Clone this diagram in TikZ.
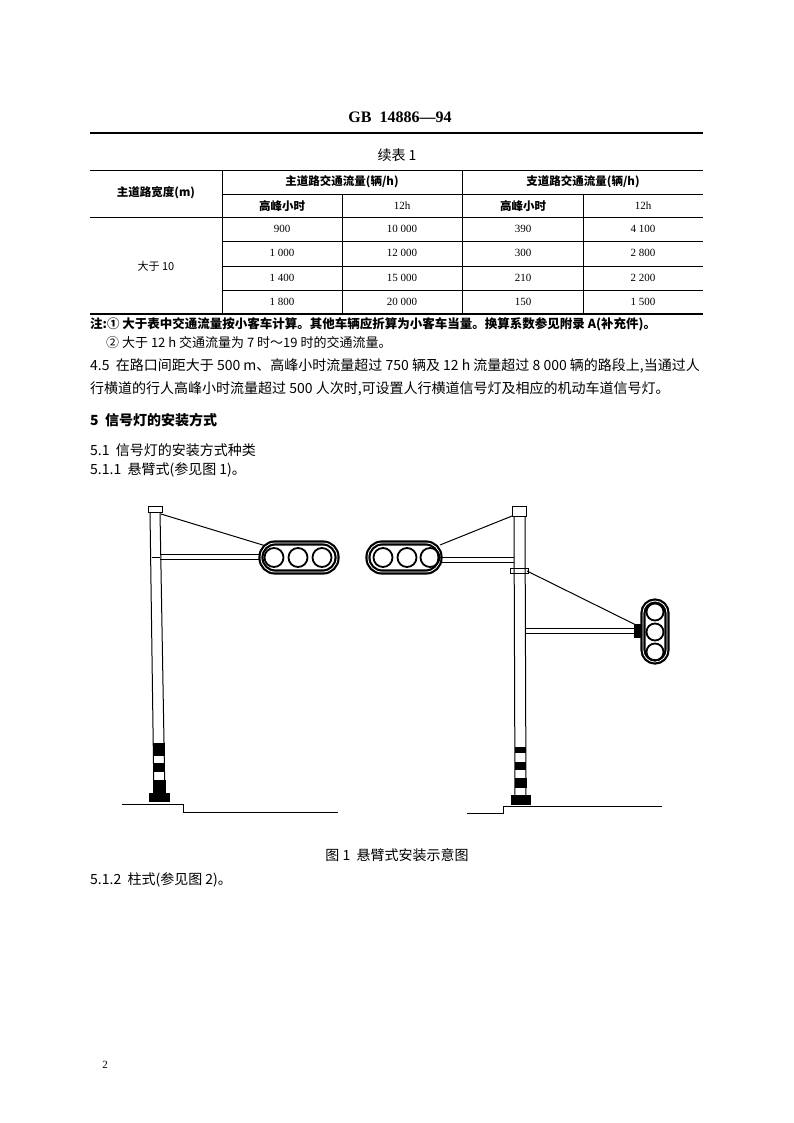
\documentclass[tikz,border=0pt]{standalone}
\usepackage{fontspec}
\setmainfont{Liberation Serif}
\newfontfamily\cjk{Noto Sans CJK SC}
\begin{document}
\begin{tikzpicture}[x=1pt,y=-1pt,
  tx/.style={inner sep=0pt,font=\cjk\fontsize{11}{12}\selectfont},
  bh/.style={inner sep=0pt,font=\cjk\bfseries\fontsize{11.5}{12}\selectfont},
  body/.style={inner sep=0pt,anchor=west,font=\cjk\fontsize{14}{16}\selectfont},
  num/.style={inner sep=0pt,font=\fontsize{11}{12}\selectfont},
  ln/.style={line width=0.6pt},
  thk/.style={line width=1.3pt},
  fig/.style={line width=1pt},
  head/.style={line width=2.2pt,double=white,double distance=0.8pt,rounded corners=14pt}]
\useasboundingbox (0,0) rectangle (794,1123);
\node[inner sep=0pt,font=\bfseries\fontsize{16}{18}\selectfont] (hdr) at (400,117) {GB\ \ 14886—94};
\draw[thk] (90,133) -- (703,133);
\node[tx,font=\cjk\fontsize{14}{16}\selectfont] (cap) at (397,155) {续表 1};
% table
\draw[ln] (90,170) -- (703,170);
\draw[ln] (222,194) -- (703,194);
\draw[ln] (90,217) -- (703,217);
\foreach \y in {241,266,290} \draw[ln] (222,\y) -- (703,\y);
\draw[thk] (90,314) -- (703,314);
\draw[ln] (222,170) -- (222,314);
\draw[ln] (462,170) -- (462,314);
\draw[ln] (342,194) -- (342,314);
\draw[ln] (583,194) -- (583,314);
\node[bh] (h1) at (156,193) {主道路宽度(m)};
\node[bh] (h2) at (342,182) {主道路交通流量(辆/h)};
\node[bh] (h3) at (583,182) {支道路交通流量(辆/h)};
\node[bh] (s1) at (282,206) {高峰小时};
\node[num] (s2) at (402,206) {12h};
\node[bh] (s3) at (523,206) {高峰小时};
\node[num] (s4) at (643,206) {12h};
\node[tx] (w) at (156,266) {大于 10};
\foreach \y/\a/\b/\c/\d in {229/900/10 000/390/4 100,253/1 000/12 000/300/2 800,278/1 400/15 000/210/2 200,302/1 800/20 000/150/1 500}{
  \node[num] at (282,\y) {\a}; \node[num] at (402,\y) {\b};
  \node[num] at (523,\y) {\c}; \node[num] at (643,\y) {\d};}
\node[body,font=\cjk\bfseries\fontsize{12.5}{13}\selectfont] (n1) at (90,324) {注:① 大于表中交通流量按小客车计算。其他车辆应折算为小客车当量。换算系数参见附录 A(补充件)。};
\node[body,font=\cjk\fontsize{13}{14}\selectfont] (n2) at (106,343) {② 大于 12 h 交通流量为 7 时～19 时的交通流量。};
\node[body] (p1) at (90,366) {4.5\ \ 在路口间距大于 500 m、高峰小时流量超过 750 辆及 12 h 流量超过 8 000 辆的路段上,当通过人};
\node[body] (p2) at (90,389) {行横道的行人高峰小时流量超过 500 人次时,可设置人行横道信号灯及相应的机动车道信号灯。};
\node[body,font=\cjk\bfseries\fontsize{14}{16}\selectfont] (s5) at (90,420) {5\ \ 信号灯的安装方式};
\node[body] (s51) at (90,450) {5.1\ \ 信号灯的安装方式种类};
\node[body] (s511) at (90,470) {5.1.1\ \ 悬臂式(参见图 1)。};
% figure left
\draw[fig] (150,512) -- (154,800) (160,512) -- (165,800);
\draw[fig] (148,506) rectangle (162,512);
\draw[fig] (160,554) -- (263,554) (160,559) -- (263,559);
\draw[fig] (152,557) -- (160,557);
\draw[fig] (161,514) -- (266,546);
\draw[head] (261,543) rectangle (337,572);
\foreach \x in {274,298,322} \draw[line width=1.8pt] (\x,557.5) circle (9.5);
\fill (153,743) rectangle (165,756); \fill (153,763) rectangle (165,772); \fill (153,780) rectangle (166,793);
\fill (149,793) rectangle (170,802);
\draw[fig] (122,804) -- (183,804) -- (183,812) -- (338,812);
% second head
\draw[head] (368,543) rectangle (440,572);
\foreach \x in {383,407,430} \draw[line width=1.8pt] (\x,557.5) circle (9.5);
% right pole
\draw[fig] (514,516) -- (515,800) (525,516) -- (526,800);
\draw[fig] (512,506) rectangle (526,516);
\draw[fig] (440,557) -- (514,557) (440,562) -- (514,562);
\draw[fig] (440,545) -- (512,516);
\draw[fig] (510,568) rectangle (528,573);
\draw[fig] (527,571) -- (636,625);
\draw[fig] (525,628) -- (636,628) (525,633) -- (636,633);
\fill (634,624) rectangle (641,638);
\draw[head,rounded corners=12pt] (643,601) rectangle (667,662);
\foreach \y in {612,632,652} \draw[line width=1.8pt] (655,\y) circle (8.5);
\fill (515,747) rectangle (526,753); \fill (515,762) rectangle (526,770); \fill (515,778) rectangle (527,788);
\fill (511,795) rectangle (531,805);
\draw[fig] (467,813) -- (503,813) -- (503,806) -- (662,806);
\node[tx,font=\cjk\fontsize{14}{16}\selectfont] (fc) at (397,855) {图 1\ \ 悬臂式安装示意图};
\node[body] (s512) at (90,880) {5.1.2\ \ 柱式(参见图 2)。};
\node[num] (pg) at (105,1065) {2};
\end{tikzpicture}
\end{document}
